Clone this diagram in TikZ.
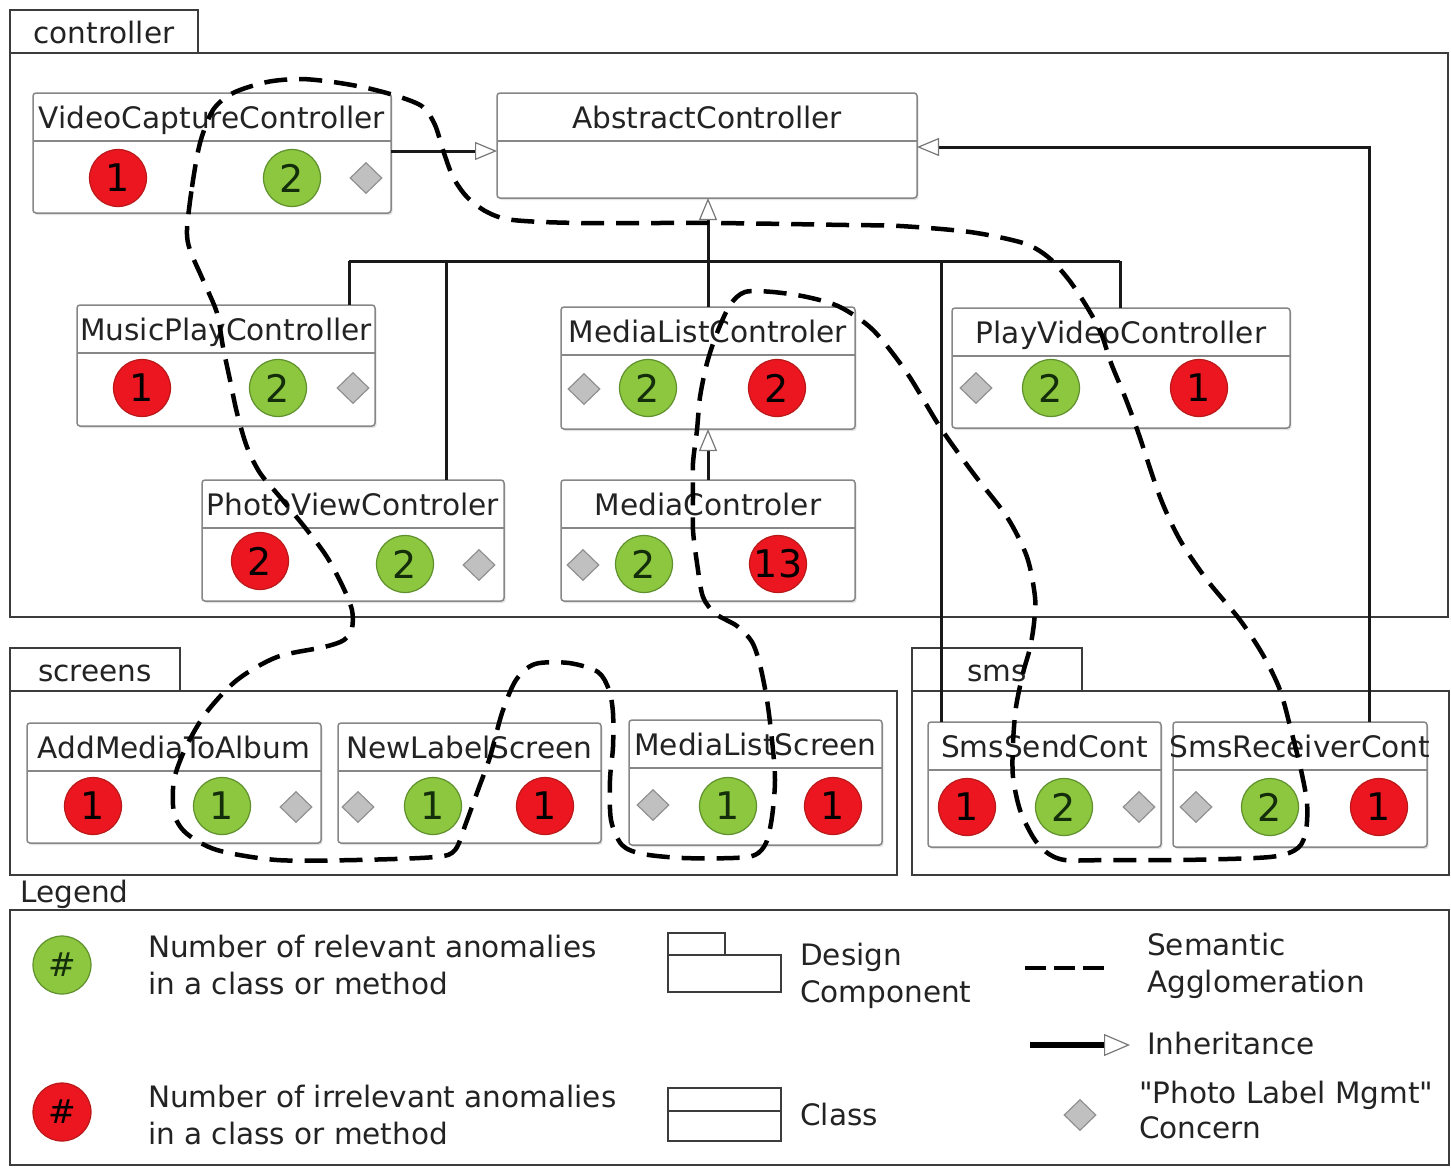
\documentclass[tikz,border=0pt]{standalone}
\usepackage{fontspec}
\setmainfont{DejaVu Sans}
\newfontfamily\plainquotes{DejaVu Sans}[Ligatures=TeXOff]
\usetikzlibrary{arrows.meta,shadows,shapes.geometric}

\definecolor{pkgline}{RGB}{60,60,60}
\definecolor{clsline}{RGB}{135,135,135}
\definecolor{txt}{RGB}{35,35,35}
\definecolor{badgered}{RGB}{236,22,32}
\definecolor{badgeredline}{RGB}{185,25,25}
\definecolor{badgegreen}{RGB}{141,198,63}
\definecolor{badgegreenline}{RGB}{95,145,45}
\definecolor{greendigit}{RGB}{20,45,10}
\definecolor{concernfill}{RGB}{192,192,192}
\definecolor{concernline}{RGB}{145,145,145}
\definecolor{tipgray}{RGB}{120,120,120}

% one UML class: name, x1, y1, x2, y2, title
\newcommand{\umlclass}[6]{%
  \node[clsbox, minimum width={#4-#2}, minimum height={#5-#3}, anchor=north west] (#1) at (#2,#3) {};
  \draw[clsdiv] (#2,#3+48) -- (#4,#3+48);
  \node[clstitle] (#1-name) at ({(#2+#4)/2},#3+35) {#6};
}

\begin{document}
\begin{tikzpicture}[x=1pt,y=-1pt,
  pkg/.style={draw=pkgline, line width=2pt, fill=white, inner sep=0pt, outer sep=0pt},
  pkgname/.style={font=\fontsize{29.5}{34}\selectfont, text=txt, inner sep=0pt, anchor=base},
  clsbox/.style={draw=clsline, line width=1.5pt, fill=white, rounded corners=3pt, inner sep=0pt, outer sep=0pt,
    drop shadow={shadow xshift=1.5pt, shadow yshift=-2pt, opacity=0.22}},
  clsdiv/.style={draw=clsline, line width=1.5pt},
  clstitle/.style={font=\fontsize{29.6}{34}\selectfont, text=txt, inner sep=0pt, anchor=base},
  redb/.style={circle, fill=badgered, draw=badgeredline, line width=1.2pt, minimum size=57pt, inner sep=0pt,
    font=\fontsize{38}{38}\selectfont, text=black},
  grnb/.style={circle, fill=badgegreen, draw=badgegreenline, line width=1.2pt, minimum size=57pt, inner sep=0pt,
    font=\fontsize{38}{38}\selectfont, text=greendigit},
  concern/.style={diamond, fill=concernfill, draw=concernline, line width=1.2pt, minimum width=32pt, minimum height=31pt, inner sep=0pt},
  conn/.style={draw=black!90, line width=3pt},
  inh/.style={conn, -{Triangle[open, length=22pt, width=18pt, line width=1.2pt, color=tipgray]}},
  agglo/.style={draw=black, line width=4.5pt, dash pattern=on 23pt off 12pt},
  lgtext/.style={font=\fontsize{29.5}{34}\selectfont, text=txt, inner sep=0pt, anchor=base west},
  lghash/.style={minimum size=58pt, font=\fontsize{33}{33}\selectfont},
]
\useasboundingbox (0,0) rectangle (1451,1168);
\fill[white] (0,0) rectangle (1451,1168);

% ---------- design components ----------
\node[pkg, minimum width=188, minimum height=43, anchor=north west] (ctrl-tab) at (10,10) {};
\node[pkg, minimum width=1438, minimum height=564, anchor=north west] (ctrl) at (10,53) {};
\node[pkgname] (ctrl-name) at (104,43) {controller};

\node[pkg, minimum width=170, minimum height=43, anchor=north west] (scr-tab) at (10,648) {};
\node[pkg, minimum width=887, minimum height=184, anchor=north west] (scr) at (10,691) {};
\node[pkgname] (scr-name) at (95,681) {screens};

\node[pkg, minimum width=170, minimum height=43, anchor=north west] (sms-tab) at (912,648) {};
\node[pkg, minimum width=537, minimum height=184, anchor=north west] (sms) at (912,691) {};
\node[pkgname] (sms-name) at (997,681) {sms};

% ---------- legend frame ----------
\node[lgtext] (legend-name) at (20,902) {Legend};
\node[pkg, minimum width=1439, minimum height=255, anchor=north west] (legend) at (10,910) {};

% ---------- inheritance bus (drawn under the classes) ----------
\coordinate (b1) at (349,261);
\coordinate (b2) at (446,261);
\coordinate (b4) at (941,261);
\coordinate (b5) at (1120,261);
\coordinate (r1) at (1369,147);

% ---------- classes ----------
\umlclass{vcc}{33}{93}{391}{213}{VideoCaptureController}
\umlclass{ac}{497}{93}{917}{198}{AbstractController}
\umlclass{mpc}{77}{305}{375}{426}{MusicPlayController}
\umlclass{pvc}{202}{480}{504}{601}{PhotoViewControler}
\umlclass{mlc}{561}{307}{855}{429}{MediaListControler}
\umlclass{mc}{561}{480}{855}{601}{MediaControler}
\umlclass{pvdc}{952}{308}{1290}{428}{PlayVideoController}
\umlclass{amta}{27}{723}{321}{843}{AddMediaToAlbum}
\umlclass{nls}{338}{723}{601}{843}{NewLabelScreen}
\umlclass{mls}{629}{720}{882}{845}{MediaListScreen}
\umlclass{ssc}{928}{722}{1161}{847}{SmsSendCont}
\umlclass{src}{1173}{722}{1427}{847}{SmsReceiverCont}

% ---------- inheritance connectors ----------
\draw[conn] (b1) -- (b5);
\draw[conn] (b1) -- (b1 |- mpc.north);
\draw[conn] (b2) -- (b2 |- pvc.north);
\draw[conn] (b4) -- (b4 |- ssc.north);
\draw[conn] (b5) -- (b5 |- pvdc.north);
\draw[inh] (mlc.north) -- (mlc.north |- ac.south);
\draw[inh] (mc.north) -- (mc.north |- mlc.south);
\draw[inh] ([yshift=2pt]vcc.east) -- ([yshift=2pt]vcc.east -| ac.west);
\draw[inh] (r1 |- src.north) -- (r1) -- (r1 -| ac.east);

% ---------- anomaly badges and concern markers ----------
\node[redb] (vcc-r) at (118,178) {1};
\node[grnb] (vcc-g) at (292,178) {2};
\node[concern] (vcc-c) at (366,178) {};

\node[redb] (mpc-r) at (142,388) {1};
\node[grnb] (mpc-g) at (278,388) {2};
\node[concern] (mpc-c) at (353,388) {};

\node[redb] (pvc-r) at (260,561) {2};
\node[grnb] (pvc-g) at (405,564) {2};
\node[concern] (pvc-c) at (479,565) {};

\node[concern] (mlc-c) at (584,389) {};
\node[grnb] (mlc-g) at (648,388) {2};
\node[redb] (mlc-r) at (777,388) {2};

\node[concern] (mc-c) at (583,565) {};
\node[grnb] (mc-g) at (644,564) {2};
\node[redb] (mc-r) at (778,564) {13};

\node[concern] (pvdc-c) at (976,388) {};
\node[grnb] (pvdc-g) at (1051,388) {2};
\node[redb] (pvdc-r) at (1199,388) {1};

\node[redb] (amta-r) at (93,806) {1};
\node[grnb] (amta-g) at (222,806) {1};
\node[concern] (amta-c) at (296,807) {};

\node[concern] (nls-c) at (358,807) {};
\node[grnb] (nls-g) at (433,806) {1};
\node[redb] (nls-r) at (545,806) {1};

\node[concern] (mls-c) at (653,805) {};
\node[grnb] (mls-g) at (728,806) {1};
\node[redb] (mls-r) at (833,806) {1};

\node[redb] (ssc-r) at (967,807) {1};
\node[grnb] (ssc-g) at (1064,807) {2};
\node[concern] (ssc-c) at (1139,807) {};

\node[concern] (src-c) at (1196,807) {};
\node[grnb] (src-g) at (1270,807) {2};
\node[redb] (src-r) at (1379,807) {1};

% ---------- semantic agglomeration ----------
\draw[agglo] plot[smooth cycle, tension=0.5] coordinates {
 (187,230) (192,187) (200,143) (213,110) (233,93) (267,82) (300,79) (333,82) (367,88) (400,97)
 (423,107) (435,125) (443,150) (453,177) (467,197) (487,212) (513,220) (580,223) (713,223)
 (847,225) (900,226) (970,232) (1023,243) (1048,257) (1069,280) (1087,307) (1101,333)
 (1111,363) (1125,397) (1138,432) (1160,497) (1180,540) (1207,580) (1240,620) (1263,655)
 (1280,690) (1291,730) (1301,770) (1307,803) (1306,830) (1298,848) (1270,857) (1182,860)
 (1111,860) (1065,860) (1046,852) (1033,837) (1020,810) (1013,777) (1013,743) (1016,707)
 (1023,673) (1030,648) (1034,623) (1035,597) (1027,557) (1007,517) (973,473) (940,427)
 (907,373) (873,330) (840,307) (807,297) (773,292) (745,292) (730,305) (717,333) (707,363)
 (700,397) (697,430) (693,463) (693,497) (693,530) (697,563) (703,597) (716,614) (737,626)
 (752,642) (760,665) (767,700) (772,740) (775,780) (772,817) (766,843) (755,855) (733,858)
 (683,858) (643,854) (622,845) (611,820) (610,780) (613,747) (613,713) (609,690) (598,672)
 (569,663) (535,664) (516,680) (502,713) (490,757) (478,790) (466,823) (455,850) (435,857)
 (356,860) (277,860) (217,850) (186,833) (174,813) (174,780) (186,747) (206,713) (237,680)
 (277,657) (324,647) (344,640) (352,628) (352,610) (343,587) (327,557) (307,530) (280,497)
 (260,473) (247,447) (237,413) (230,380) (223,347) (217,313) (203,280) (190,250)};

% ---------- legend entries ----------
\node[grnb, lghash] (lg-green) at (62,965) {\#};
\node[lgtext] (lg-green-1) at (148,957) {Number of relevant anomalies};
\node[lgtext] (lg-green-2) at (148,994) {in a class or method};

\node[redb, lghash] (lg-red) at (62,1112) {\#};
\node[lgtext] (lg-red-1) at (148,1107) {Number of irrelevant anomalies};
\node[lgtext] (lg-red-2) at (148,1144) {in a class or method};

\draw[draw=pkgline, line width=2pt] (668,933) rectangle (725,955);
\draw[draw=pkgline, line width=2pt] (668,955) rectangle (781,992);
\node[lgtext] (lg-pkg-1) at (800,965) {Design};
\node[lgtext] (lg-pkg-2) at (800,1002) {Component};

\draw[draw=pkgline, line width=2pt] (668,1088) rectangle (781,1141);
\draw[draw=pkgline, line width=2pt] (668,1111) -- (781,1111);
\node[lgtext] (lg-cls) at (800,1125) {Class};

\coordinate (lg-dash-a) at (1025,968);
\coordinate (lg-dash-b) at (1104,968);
\draw[draw=black, line width=4.5pt, dash pattern=on 21pt off 8pt] (lg-dash-a) -- (lg-dash-b);
\node[lgtext] (lg-agg-1) at (1147,955) {Semantic};
\node[lgtext] (lg-agg-2) at (1147,992) {Agglomeration};

\coordinate (lg-inh-a) at (1030,1045);
\coordinate (lg-inh-b) at (1130,1045);
\draw[draw=black, line width=6pt, -{Triangle[open, length=26pt, width=22pt, line width=1.2pt, color=tipgray]}] (lg-inh-a) -- (lg-inh-b);
\node[lgtext] (lg-inh) at (1147,1054) {Inheritance};

\node[concern] (lg-concern) at (1080,1115) {};
\node[lgtext] (lg-con-1) at (1139,1103) {\plainquotes "Photo Label Mgmt"};
\node[lgtext] (lg-con-2) at (1139,1138) {Concern};
\end{tikzpicture}
\end{document}
